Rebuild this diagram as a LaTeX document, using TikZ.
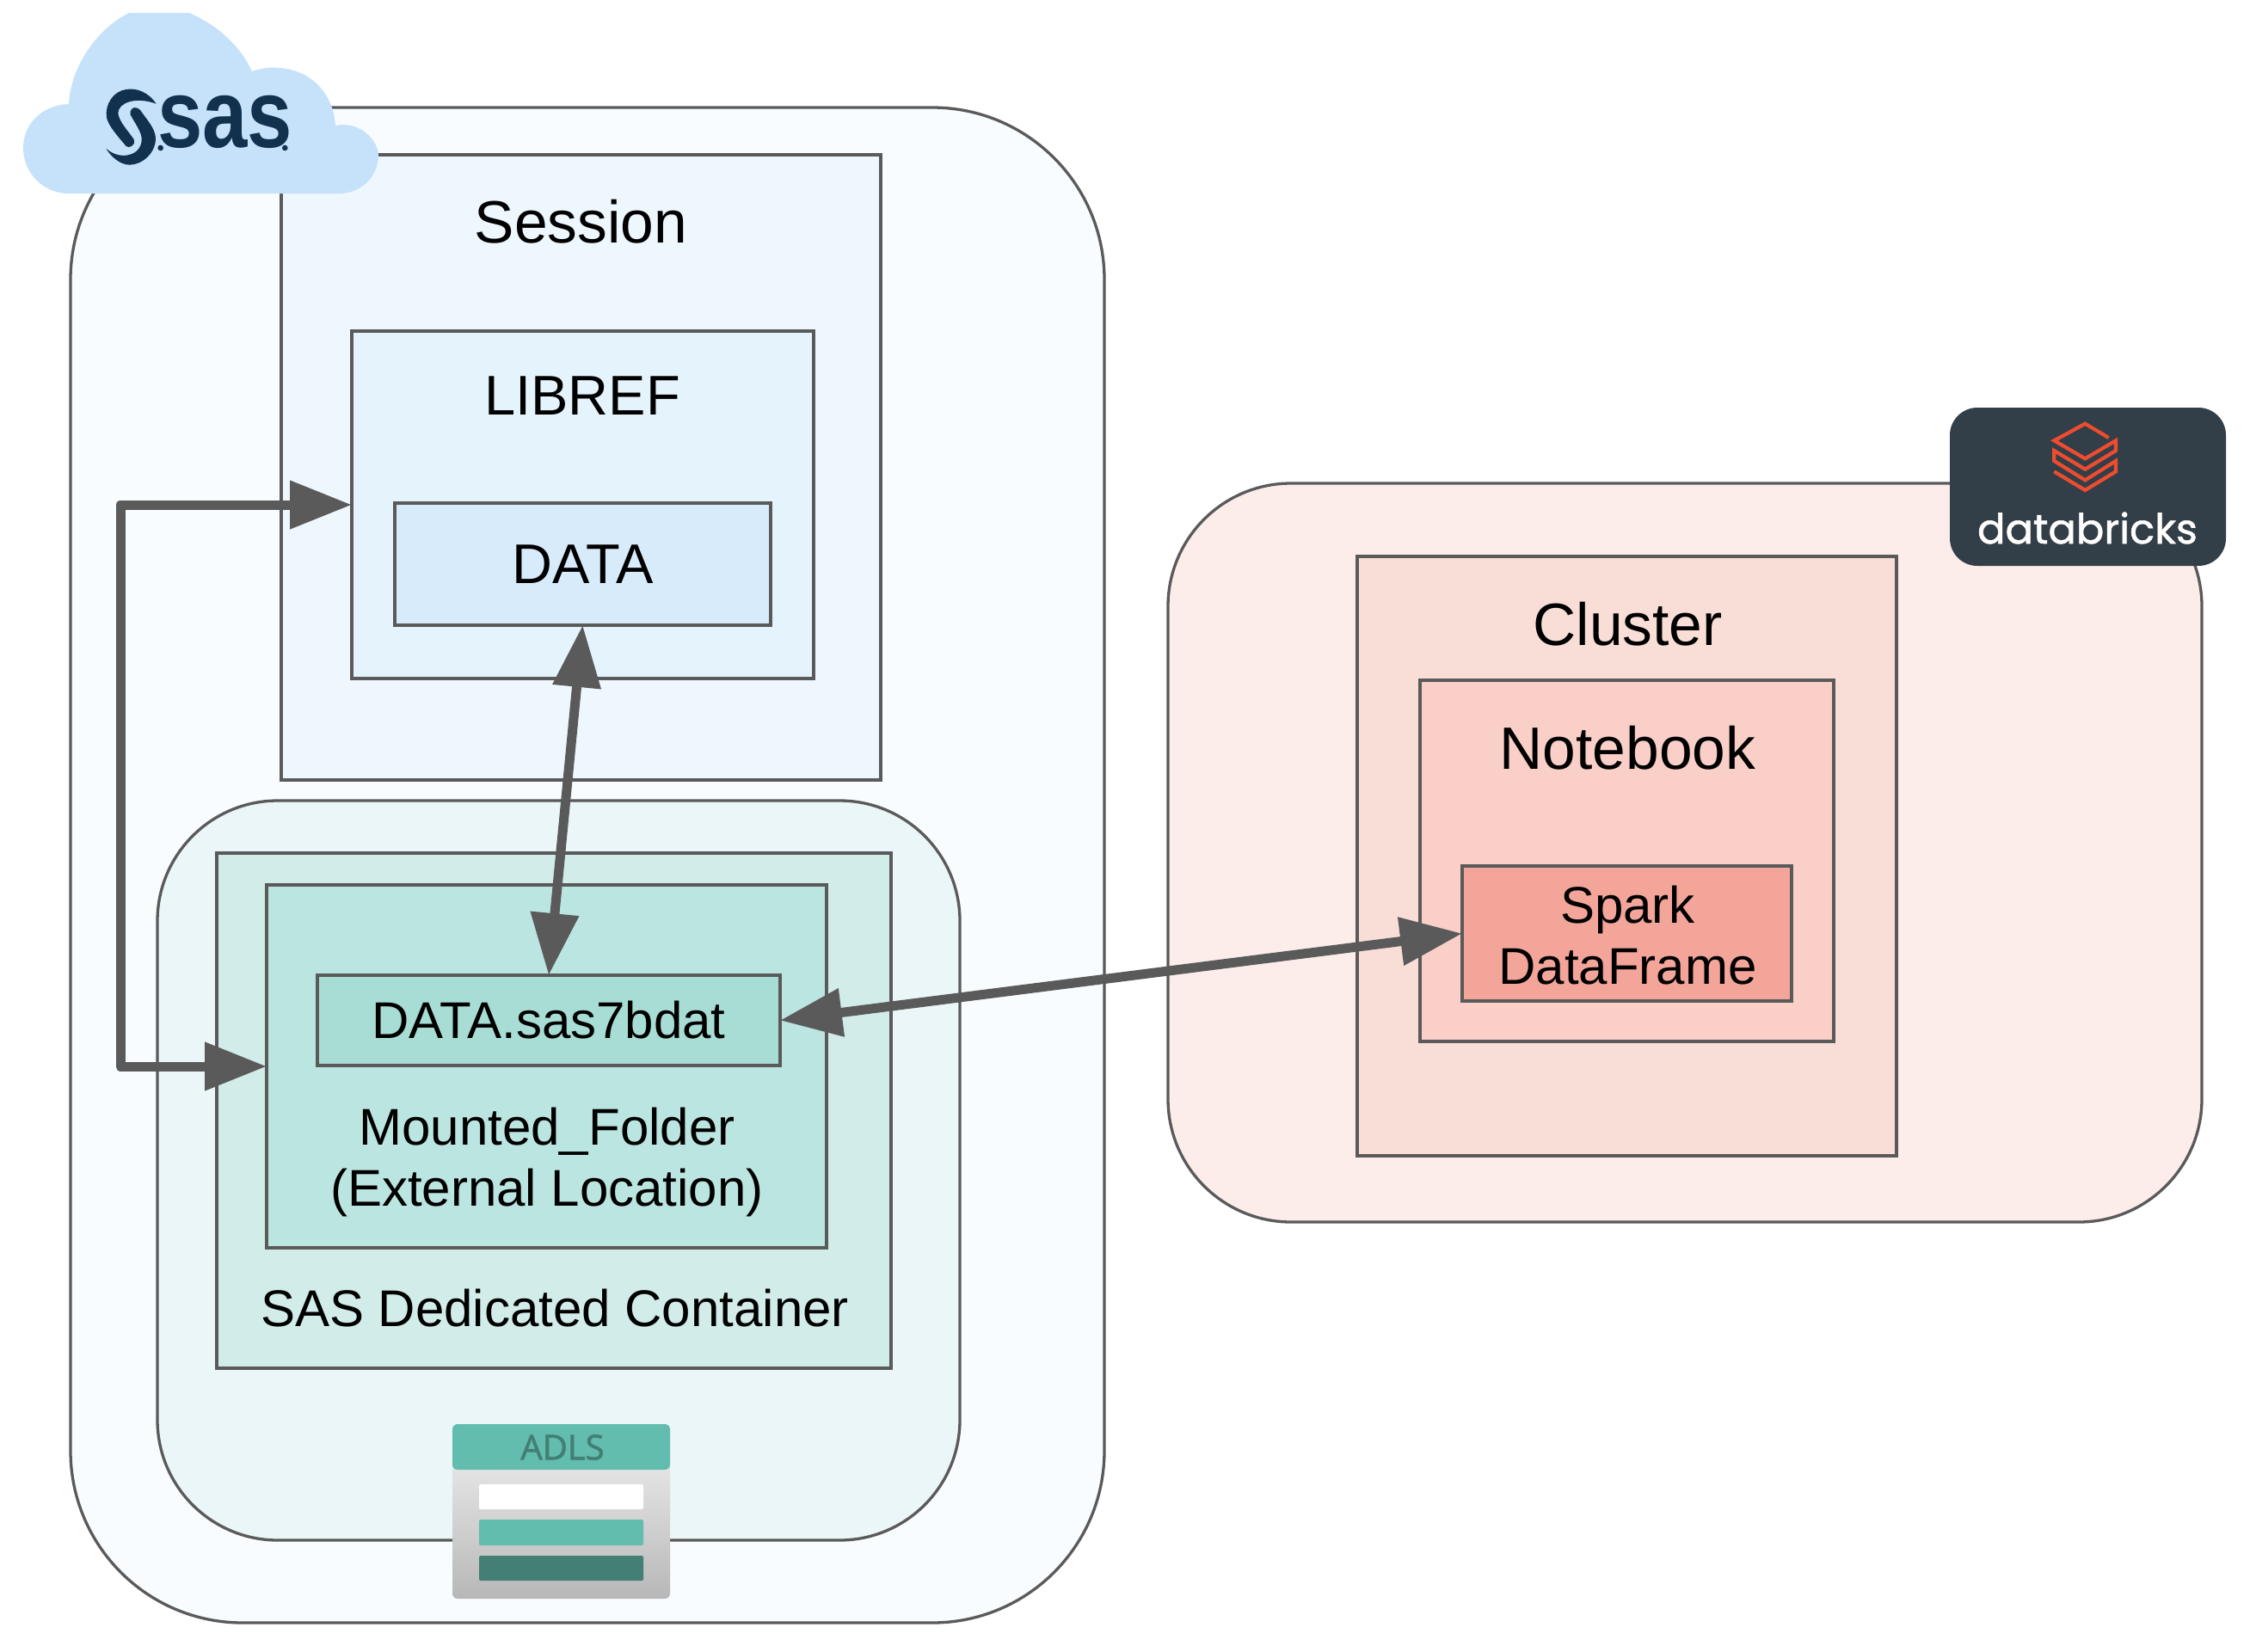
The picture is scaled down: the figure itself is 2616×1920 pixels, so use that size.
\documentclass[tikz,border=0pt]{standalone}
\usepackage{fontspec}
\setmainfont{Liberation Sans}
\newfontfamily\popfont[FakeBold=1.2]{Poppins}
\newfontfamily\osfont[FakeBold=1.6]{Open Sans}
\usetikzlibrary{arrows.meta}
\definecolor{edgec}{HTML}{5A5A5A}
\definecolor{sasouter}{HTML}{F8FCFF}
\definecolor{sasession}{HTML}{EFF7FE}
\definecolor{saslib}{HTML}{E5F3FD}
\definecolor{sasdata}{HTML}{D8EBFB}
\definecolor{adlsouter}{HTML}{EAF6F7}
\definecolor{adlscont}{HTML}{D1ECE9}
\definecolor{adlsmount}{HTML}{BBE5E0}
\definecolor{adlsfile}{HTML}{A8DDD5}
\definecolor{dbouter}{HTML}{FCEDEA}
\definecolor{dbcluster}{HTML}{F9DDD7}
\definecolor{dbnote}{HTML}{F9CFC8}
\definecolor{dbspark}{HTML}{F4A59A}
\definecolor{cloudc}{HTML}{C6E2FA}
\definecolor{sasnavy}{HTML}{12314F}
\definecolor{dbdark}{HTML}{333F48}
\definecolor{dbred}{HTML}{EE4C2F}
\definecolor{adlsteal}{HTML}{62BDAF}
\definecolor{adlsdark}{HTML}{437F74}
\tikzset{
  boxn/.style={draw=edgec,line width=3.3pt,inner sep=0pt,outer sep=0pt,anchor=north west,align=center},
  bigtext/.style={font=\fontsize{69.5}{84}\selectfont,text=black,inner sep=0pt,align=center},
  midtext/.style={font=\fontsize{60}{71}\selectfont,text=black,inner sep=0pt,align=center},
  link/.style={draw=edgec,line width=11pt,{Triangle[length=72pt,width=54pt]}-{Triangle[length=72pt,width=54pt]}},
}
\begin{document}
\begin{tikzpicture}[x=1pt,y=-1pt]
\useasboundingbox[fill=white] (0,0) rectangle (2616,1920);
% SAS side
\node[boxn,fill=sasouter,rounded corners=200pt,minimum width=1202pt,minimum height=1762pt] (sasenv) at (82,125) {};
\node[boxn,fill=sasession,minimum width=697pt,minimum height=727pt] (session) at (327,180) {};
\node[bigtext] (sessionlabel) at (675.5,258) {Session};
\node[boxn,fill=saslib,minimum width=537pt,minimum height=404pt] (libref) at (409,385) {};
\node[bigtext,font=\fontsize{65}{78}\selectfont] (libreflabel) at (677,460) {LIBREF};
\node[boxn,fill=sasdata,minimum width=437pt,minimum height=142pt,font=\fontsize{65}{78}\selectfont] (data) at (459,585) {\raisebox{-3.5pt}{DATA}};
\node[boxn,fill=adlsouter,rounded corners=140pt,minimum width=933pt,minimum height=860pt] (adls) at (183,931) {};
\node[boxn,fill=adlscont,minimum width=784pt,minimum height=599pt] (container) at (252,992) {};
\node[midtext] (containerlabel) at (645,1521) {SAS Dedicated Container};
\node[boxn,fill=adlsmount,minimum width=651pt,minimum height=422pt] (mounted) at (310,1029) {};
\node[midtext] (mountedlabel) at (636,1351) {Mounted\_Folder\\(External Location)};
\node[boxn,fill=adlsfile,minimum width=538pt,minimum height=105pt,font=\fontsize{60}{71}\selectfont] (file) at (369,1134) {\raisebox{-3.5pt}{DATA.sas7bdat}};
% Databricks side
\node[boxn,fill=dbouter,rounded corners=143pt,minimum width=1202pt,minimum height=859pt] (dbenv) at (1358,562) {};
\node[boxn,fill=dbcluster,minimum width=627pt,minimum height=697pt] (cluster) at (1578,647) {};
\node[bigtext] (clusterlabel) at (1892.5,725.5) {Cluster};
\node[boxn,fill=dbnote,minimum width=481pt,minimum height=420pt] (notebook) at (1651,791) {};
\node[bigtext] (notebooklabel) at (1892.5,870) {Notebook};
\node[boxn,fill=dbspark,minimum width=383pt,minimum height=157pt] (spark) at (1700,1007) {};
\node[midtext] (sparklabel) at (1892.5,1087.5) {Spark\\DataFrame};
% Connectors
\coordinate (railtop) at (140,587);
\coordinate (railbot) at (140,1240);
\draw[link,line join=round] (libref.west) -- (railtop) -- (railbot) -- (mounted.west);
\draw[link] (data.south) -- (file.north);
\draw[link] (file.east) -- (spark.west);
% SAS cloud logo
\fill[cloudc] (80,225) .. controls (50,225) and (27,201) .. (27,172)
  .. controls (27,143) and (50,122) .. (80,121)
  .. controls (82,80) and (110,35) .. (150,15) -- (220,15)
  .. controls (255,30) and (280,55) .. (293,83)
  .. controls (305,79) and (315,78) .. (325,79)
  .. controls (365,82) and (388,112) .. (390,146)
  .. controls (420,140) and (440,165) .. (440,180)
  .. controls (440,205) and (420,225) .. (395,225) -- cycle;
\begin{scope}[x=.3333pt,y=-.3333pt]
\fill[sasnavy] (545,362) .. controls (520,325) and (480,305) .. (440,312)
  .. controls (395,318) and (365,365) .. (372,410)
  .. controls (378,440) and (415,480) .. (440,510)
  .. controls (450,520) and (475,505) .. (468,488)
  .. controls (450,460) and (415,425) .. (412,395)
  .. controls (412,360) and (470,335) .. (545,362) -- cycle;
\fill[sasnavy] (462,378) .. controls (470,372) and (485,378) .. (490,385)
  .. controls (510,415) and (540,445) .. (543,480)
  .. controls (545,530) and (500,575) .. (450,575)
  .. controls (420,575) and (385,545) .. (370,518)
  .. controls (400,545) and (440,550) .. (470,532)
  .. controls (495,515) and (500,485) .. (488,460)
  .. controls (480,440) and (465,420) .. (455,400)
  .. controls (452,392) and (455,383) .. (462,378) -- cycle;
\node[inner sep=0pt,anchor=base,font=\fontsize{112}{112}\selectfont\bfseries,text=sasnavy,xscale=.84,transform shape] (saslogo) at (785,515) {sas};
\fill[sasnavy] (560,516) circle (10);
\fill[sasnavy] (994,516) circle (10);
\end{scope}
% Databricks logo
\node[fill=dbdark,rounded corners=32pt,inner sep=0pt,outer sep=0pt,anchor=north west,minimum width=321pt,minimum height=184pt] (dblogo) at (2267,474) {};
\begin{scope}[shift={(2220pt,-450pt)},x=.3333pt,y=-.3333pt]
\draw[dbred,line width=4.2pt,miter limit=10] (695,177) -- (613,128) -- (505,187) -- (613,250) -- (720,187) -- (720,222) -- (613,287) -- (505,222) -- (505,258) -- (613,325) -- (720,258) -- (720,295) -- (613,360) -- (505,295);
\end{scope}
\node[inner sep=0pt,anchor=base,font=\popfont\fontsize{48}{48}\selectfont,text=white] (dbtext) at (2427,632) {databricks};
% ADLS logo
\shade[top color=black!10,bottom color=black!28,rounded corners=6pt] (526,1700) rectangle (779,1859);
\fill[adlsteal,rounded corners=6pt] (526,1709) -- (526,1656) -- (779,1656) -- (779,1709) -- cycle;
\node[inner sep=0pt,font=\osfont\fontsize{40}{40}\selectfont,text=adlsdark] (adlstext) at (654,1683) {ADLS};
\fill[white,rounded corners=2pt] (557,1726) rectangle (748,1755);
\fill[adlsteal,rounded corners=2pt] (557,1767) rectangle (748,1797);
\fill[adlsdark,rounded corners=2pt] (557,1809) rectangle (748,1838);
\end{tikzpicture}
\end{document}
